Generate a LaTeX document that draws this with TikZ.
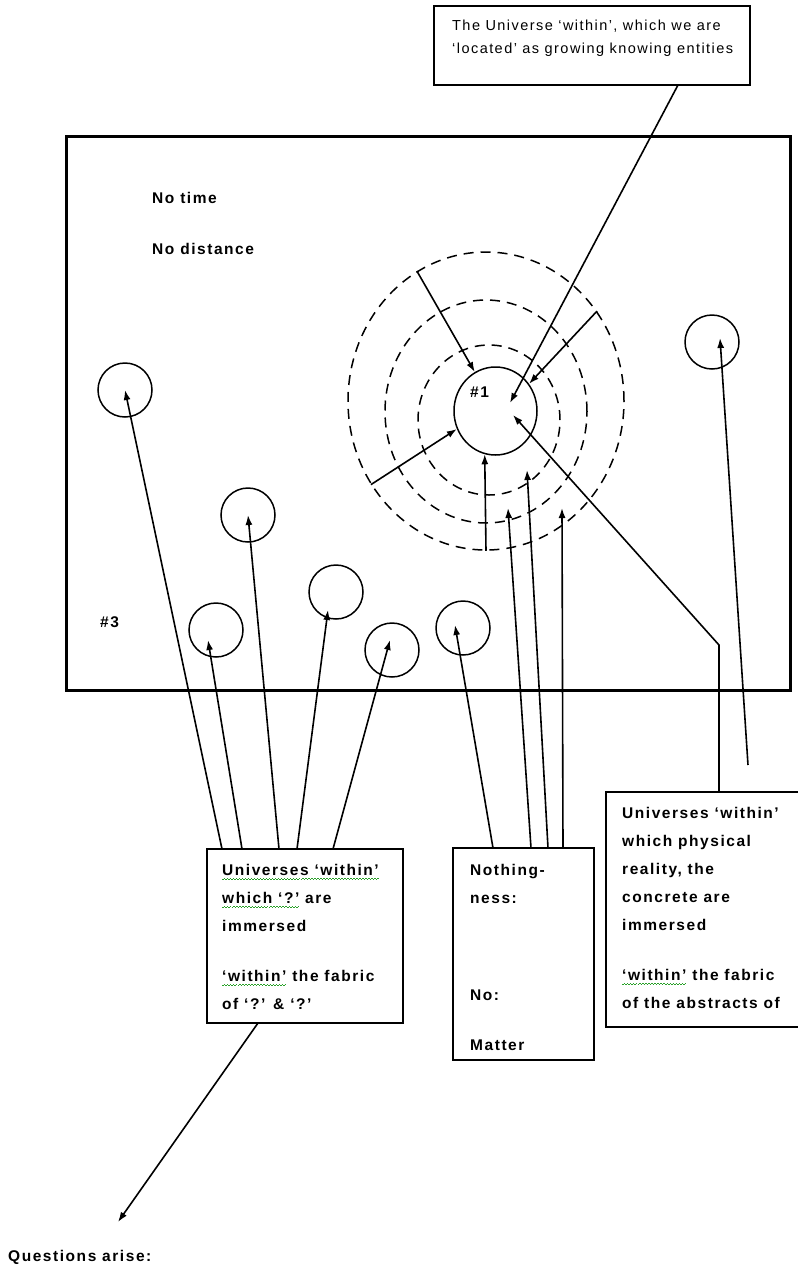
\documentclass[tikz,border=0pt]{standalone}
\usepackage{fontspec}
\setmainfont{Liberation Sans}[LetterSpace=10]
\usetikzlibrary{shapes.geometric,calc,arrows.meta}

\definecolor{spell}{RGB}{40,160,40}
\newsavebox\squigbox
\newcommand\squig[1]{\sbox\squigbox{#1}\rlap{\textcolor{spell}{\hbox to \wd\squigbox{\xleaders\hbox{\rule[-4.5pt]{1.5pt}{1.1pt}\rule[-3.4pt]{1.5pt}{1.1pt}}\hfill}}}\usebox\squigbox}

\tikzset{
  frame/.style={draw, line width=3pt, inner sep=0pt, outer sep=0pt, anchor=north west},
  box/.style={draw, line width=2.5pt, inner sep=0pt, outer sep=0pt, anchor=north west},
  lbl/.style={font=\bfseries\fontsize{15.5}{28}\selectfont, align=left, inner sep=0pt},
  note/.style={font=\fontsize{14.5}{23}\selectfont, align=left, inner sep=0pt},
  ring/.style={ellipse, draw, line width=1.5pt, dash pattern=on 10pt off 7pt, inner sep=0pt},
  blob/.style={circle, draw, line width=1.5pt, minimum size=54pt, inner sep=0pt},
  arr/.style={-{Latex[length=10pt, width=7pt]}, line width=1.6pt},
}

\begin{document}
\begin{tikzpicture}[x=1pt, y=-1pt]
  \useasboundingbox (0,0) rectangle (798,1267);

  % the whole of it
  \node[frame, minimum width=724pt, minimum height=554pt] (space) at (66,136) {};
  \node[lbl, anchor=base west] (notime) at (152,203) {No time};
  \node[lbl, anchor=base west] (nodist) at (152,254) {No distance};
  \node[lbl, anchor=base west] (mark3) at (100,627) {\#3};

  % our universe and its shells
  \node[ring, minimum width=276pt, minimum height=298pt] (r1) at (486,401) {};
  \node[ring, minimum width=202pt, minimum height=223pt] (r2) at (486,411.5) {};
  \node[ring, minimum width=142pt, minimum height=150pt] (r3) at (489,420) {};
  \node[ellipse, draw, line width=1.5pt, inner sep=0pt, minimum width=83pt, minimum height=88pt] (core) at (495.5,411) {};
  \node[lbl, anchor=base west] (mark1) at (470,397) {\#1};

  % other universes
  \node[blob] (c1) at (125,390) {};
  \node[blob] (c2) at (248,515) {};
  \node[blob] (c3) at (216,630) {};
  \node[blob] (c4) at (336,592) {};
  \node[blob] (c5) at (392,650) {};
  \node[blob] (c6) at (463,628) {};
  \node[blob] (c7) at (712,342) {};

  % the boxes
  \node[box, minimum width=316pt, minimum height=79pt] (ourverse) at (434,6) {};
  \node[note, anchor=north west] (ourtext) at ($(ourverse.north west)+(18,14)$)
    {The Universe ‘within’, which we are\\‘located’ as growing knowing entities};

  \node[box, minimum width=196pt, minimum height=174pt] (unibox) at (207,849) {};
  \node[lbl, anchor=north west] (unitext) at ($(unibox.north west)+(15,15)$)
    {\squig{Universes ‘within’}\\\squig{which ‘?’} are\\immersed\\[22pt]\squig{‘within’} the fabric\\of ‘?’ \& ‘?’};

  \node[box, minimum width=141pt, minimum height=212pt] (nothing) at (453,848) {};
  \node[lbl, anchor=north west] (nothtext) at ($(nothing.north west)+(17,16)$)
    {Nothing-\\ness:\\[69pt]No:\\[22pt]Matter};

  \node[box, minimum width=220pt, minimum height=235pt] (physbox) at (606,792) {};
  \node[lbl, anchor=north west] (phystext) at ($(physbox.north west)+(16,15)$)
    {Universes ‘within’\\which physical\\reality, the\\concrete are\\immersed\\[22pt]\squig{‘within’} the fabric\\of the abstracts of};

  \node[lbl, anchor=base west] (quest) at (8,1261) {Questions arise:};

  % free ends
  \coordinate (hub1) at (510,403);
  \coordinate (hub2) at (513,415);
  \coordinate (bend) at (719,645);
  \coordinate (gap1) at (508,508);
  \coordinate (gap2) at (527,470);
  \coordinate (gap3) at (562,508);
  \coordinate (loose) at (748,765);
  \coordinate (ask) at (118,1222);

  % pointers
  \draw[arr] ($(ourverse.south west)+(244,0)$) -- (hub1);
  \draw[arr] ($(physbox.north west)+(113,0)$) -- (bend) -- (hub2);
  \draw[arr] (r1.39) -- (core.39);
  \draw[arr] (r1.118) -- (core.118);
  \draw[arr] (r1.216) -- (core.205);
  \draw[arr] (r1.270) -- (core.256);

  \draw[arr] ($(unibox.north west)+(15,0)$) -- (c1.center);
  \draw[arr] ($(unibox.north west)+(35,0)$) -- ($(c3)+(-8,10)$);
  \draw[arr] ($(unibox.north west)+(72,0)$) -- (c2.center);
  \draw[arr] ($(unibox.north west)+(90,0)$) -- ($(c4)+(-8,18)$);
  \draw[arr] ($(unibox.north west)+(126,0)$) -- ($(c5)+(-2,-10)$);

  \draw[arr] ($(nothing.north west)+(40,0)$) -- ($(c6)+(-8,-3)$);
  \draw[arr] ($(nothing.north west)+(78,0)$) -- (gap1);
  \draw[arr] ($(nothing.north west)+(95,0)$) -- (gap2);
  \draw[arr] ($(nothing.north west)+(110,0)$) -- (gap3);

  \draw[arr] (loose) -- ($(c7)+(8,-4)$);
  \draw[arr] ($(unibox.south west)+(51,0)$) -- (ask);
\end{tikzpicture}
\end{document}
